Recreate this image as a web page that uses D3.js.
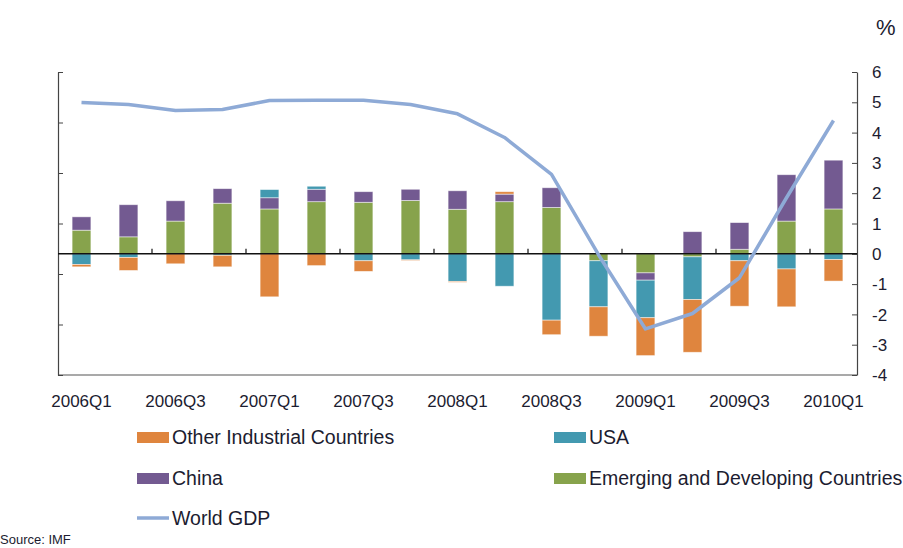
<!DOCTYPE html>
<html>
<head>
<meta charset="utf-8">
<script src="https://cdn.jsdelivr.net/npm/d3@7"></script>
<style>
  body { margin: 0; background: #fff; }
  text { font-family: "Liberation Sans", Arial, sans-serif; fill: #1c1c30; }
</style>
</head>
<body>
<svg id="chart" width="903" height="548"></svg>
<script>
// Quartale und Beitraege zum Wachstum (Prozentpunkte)
var quarters = ["2006Q1","2006Q2","2006Q3","2006Q4","2007Q1","2007Q2","2007Q3","2007Q4",
  "2008Q1","2008Q2","2008Q3","2008Q4","2009Q1","2009Q2","2009Q3","2009Q4","2010Q1"];
var emerging = [0.78, 0.56, 1.08, 1.67, 1.48, 1.72, 1.70, 1.76, 1.47, 1.72, 1.53, -0.23, -0.63, -0.10, 0.15, 1.08, 1.48];
var china    = [0.44, 1.06, 0.67, 0.48, 0.37, 0.41, 0.35, 0.37, 0.61, 0.25, 0.65, 0.00, -0.24, 0.73, 0.88, 1.53, 1.61];
var usa      = [-0.35, -0.12, 0.00, -0.05, 0.27, 0.10, -0.23, -0.20, -0.91, -1.07, -2.19, -1.52, -1.24, -1.41, -0.23, -0.50, -0.19];
var other    = [-0.08, -0.43, -0.33, -0.38, -1.42, -0.39, -0.35, -0.02, -0.03, 0.08, -0.48, -0.97, -1.25, -1.74, -1.50, -1.25, -0.71];
var worldGdp = [4.99, 4.93, 4.73, 4.76, 5.06, 5.07, 5.07, 4.93, 4.62, 3.84, 2.62, -0.03, -2.48, -1.97, -0.79, 1.85, 4.40];
var rightTicks = [6, 5, 4, 3, 2, 1, 0, -1, -2, -3, -4];

var legendNames = { other: "Other Industrial Countries", usa: "USA", china: "China",
  emerging: "Emerging and Developing Countries", gdp: "World GDP" };
var colors = { emerging: "#87a34c", china: "#735a91", usa: "#4399b0", other: "#df853e", gdp: "#8eaad6" };

// Plotbereich (nicht "top" nennen, das ist window.top)
var plotL = 58, plotR = 857, plotT = 72, plotB = 375;
var svg = d3.select("#chart");

// Tabelle fuer d3.stack
var table = quarters.map(function (q, i) {
  return { q: q, emerging: emerging[i], china: china[i], usa: usa[i], other: other[i] };
});
var keys = ["emerging", "china", "usa", "other"];
var series = d3.stack().keys(keys).offset(d3.stackOffsetDiverging)(table);

var x = d3.scaleBand().domain(quarters).range([plotL, plotR]).paddingInner(0.6).paddingOuter(0.3);
var y = d3.scaleLinear().domain([-4, 6]).range([plotB, plotT]);
var yLeft = d3.scaleLinear().domain([0, 6]).range([plotB, plotT]);
var step = x.step();

// Balken
svg.append("g").selectAll("g")
  .data(series)
  .enter().append("g")
  .attr("fill", function (d) { return colors[d.key]; })
  .selectAll("rect")
  .data(function (d) { return d; })
  .enter().append("rect")
  .attr("x", function (d) { return x(d.data.q); })
  .attr("width", x.bandwidth())
  .attr("y", function (d) { return y(Math.max(d[0], d[1])); })
  .attr("height", function (d) { return Math.abs(y(d[0]) - y(d[1])); })
  .attr("stroke", "#fff")
  .attr("stroke-opacity", 0.6)
  .attr("stroke-width", 0.8);

// Achsenlinien
svg.append("line").attr("x1", plotL).attr("x2", plotR).attr("y1", plotB).attr("y2", plotB)
  .attr("stroke", "#555").attr("stroke-width", 1.2);

var leftAxis = svg.append("g")
  .attr("transform", "translate(" + plotL + ",0)")
  .call(d3.axisRight(yLeft).ticks(6).tickSize(5).tickSizeOuter(0).tickFormat(""));
leftAxis.select(".domain").attr("stroke", "#444").attr("stroke-width", 1.2);
leftAxis.selectAll(".tick line").attr("stroke", "#444");

var rightAxis = svg.append("g")
  .attr("transform", "translate(" + plotR + ",0)")
  .call(d3.axisLeft(y).tickValues(rightTicks).tickSize(5).tickSizeOuter(0).tickFormat(""));
rightAxis.select(".domain").attr("stroke", "#444").attr("stroke-width", 1.2);
rightAxis.selectAll(".tick line").attr("stroke", "#444");

svg.append("g").selectAll("text")
  .data(rightTicks)
  .enter().append("text")
  .attr("x", 872)
  .attr("y", function (d) { return y(d); })
  .attr("dy", "0.36em")
  .attr("font-size", 17)
  .text(function (d) { return d; });

// Nulllinie und Kategorie-Ticks
svg.append("line").attr("x1", plotL).attr("x2", plotR).attr("y1", y(0)).attr("y2", y(0))
  .attr("stroke", "#111").attr("stroke-width", 1.4);

var tickIdx = d3.range(2, quarters.length, 2);
svg.append("g").selectAll("line")
  .data(tickIdx)
  .enter().append("line")
  .attr("x1", function (k) { return plotL + step * k; })
  .attr("x2", function (k) { return plotL + step * k; })
  .attr("y1", y(0)).attr("y2", y(0) - 5)
  .attr("stroke", "#111").attr("stroke-width", 1.2);

svg.append("g").selectAll("text")
  .data(quarters.filter(function (q, i) { return i % 2 == 0; }))
  .enter().append("text")
  .attr("x", function (q) { return x(q) + x.bandwidth() / 2; })
  .attr("y", 407)
  .attr("text-anchor", "middle")
  .attr("font-size", 17)
  .text(function (q) { return q; });

// Linie World GDP
var line = d3.line()
  .x(function (d, i) { return x(quarters[i]) + x.bandwidth() / 2; })
  .y(function (d) { return y(d); });
svg.append("path")
  .datum(worldGdp)
  .attr("d", line)
  .attr("fill", "none")
  .attr("stroke", colors.gdp)
  .attr("stroke-width", 3.5)
  .attr("stroke-linejoin", "round");

svg.append("text").attr("x", 876).attr("y", 35).attr("font-size", 22).text("%");

// Legende
var legendItems = [
  { key: "other", x: 137, y: 437 },
  { key: "usa", x: 554, y: 437 },
  { key: "china", x: 137, y: 478 },
  { key: "emerging", x: 554, y: 478 },
  { key: "gdp", x: 137, y: 518 }
];
var lg = svg.append("g").selectAll("g")
  .data(legendItems)
  .enter().append("g")
  .attr("transform", function (d) { return "translate(" + d.x + "," + d.y + ")"; });
lg.filter(function (d) { return d.key != "gdp"; }).append("rect")
  .attr("x", 0).attr("y", -5).attr("width", 32).attr("height", 11)
  .attr("fill", function (d) { return colors[d.key]; });
lg.filter(function (d) { return d.key == "gdp"; }).append("line")
  .attr("x1", 0).attr("x2", 32).attr("y1", 0).attr("y2", 0)
  .attr("stroke", colors.gdp).attr("stroke-width", 3.5);
lg.append("text")
  .attr("x", 35).attr("y", 0).attr("dy", "0.36em")
  .attr("font-size", 19.5)
  .text(function (d) { return legendNames[d.key]; });

svg.append("text").attr("x", 0).attr("y", 544).attr("font-size", 13).text("Source: IMF");
</script>
</body>
</html>
